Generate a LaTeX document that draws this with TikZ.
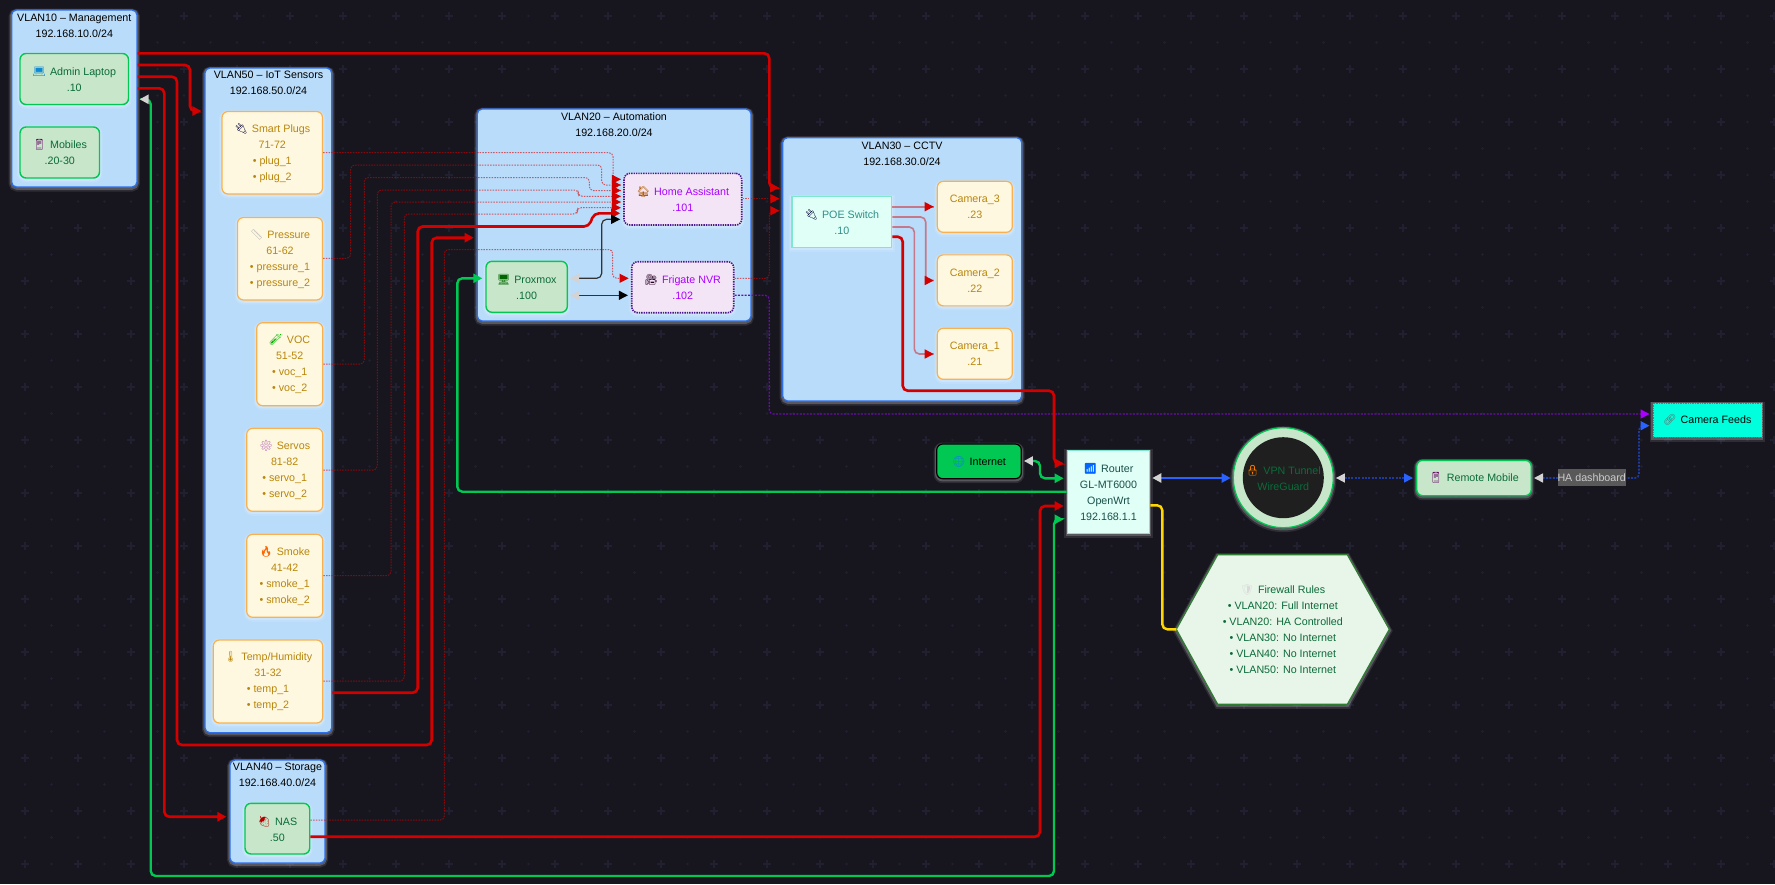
\documentclass[tikz,border=0pt]{standalone}
\usepackage{fontspec}
\setmainfont{Liberation Sans}
\newfontfamily\emojifont{Noto Emoji}
\usetikzlibrary{arrows.meta,decorations.markings}

\definecolor{pagedark}{HTML}{17161F}
\definecolor{gridmark}{HTML}{212030}
\definecolor{vlanfill}{HTML}{B9DCFA}
\definecolor{vlanline}{HTML}{2F6FE8}
\definecolor{greenfill}{HTML}{C8E6C9}
\definecolor{greenline}{HTML}{00C853}
\definecolor{greentext}{HTML}{0B6B3A}
\definecolor{sensorfill}{HTML}{FFF8E1}
\definecolor{sensorline}{HTML}{F8B050}
\definecolor{sensortext}{HTML}{B8860B}
\definecolor{autofill}{HTML}{F3E5F5}
\definecolor{autoline}{HTML}{4A1A8C}
\definecolor{autotext}{HTML}{AA00FF}
\definecolor{coolfill}{HTML}{E0FFF6}
\definecolor{coolline}{HTML}{7DE8CC}
\definecolor{cooltext}{HTML}{2F8F88}
\definecolor{feedfill}{HTML}{00FFDD}
\definecolor{hexafill}{HTML}{E8F5E9}
\definecolor{hexaline}{HTML}{2E7D32}
\definecolor{linkred}{HTML}{D40000}
\definecolor{linkblue}{HTML}{2962FF}
\definecolor{dotblue}{HTML}{1E3A9E}
\definecolor{dotpurple}{HTML}{6A0DAD}
\definecolor{tipgrey}{HTML}{D3D3D3}
\definecolor{linkyellow}{HTML}{FFD600}

\newcommand{\ico}[2]{{\emojifont\color{#1}#2}\hspace{4pt}}
\newcommand{\txtfont}{\fontsize{10.7}{16}\selectfont}

\tikzset{
  glow/.style={
    preaction={draw=white,draw opacity=.10,line width=6pt,solid,transform canvas={yshift=-1.5pt}},
    preaction={draw=white,draw opacity=.20,line width=3.5pt,solid,transform canvas={yshift=-1pt}}},
  plainbox/.style={rectangle,inner sep=0pt,align=center,font=\txtfont},
  vlanbox/.style={plainbox,glow,draw=vlanline,fill=vlanfill,rounded corners=5pt,line width=1.2pt},
  vlantitle/.style={plainbox,text=black},
  greenbox/.style={plainbox,glow,draw=greenline,fill=greenfill,text=greentext,rounded corners=6pt,line width=1.4pt},
  sensorbox/.style={plainbox,glow,draw=sensorline,fill=sensorfill,text=sensortext,rounded corners=6pt,line width=1.2pt},
  autobox/.style={plainbox,glow,draw=autoline,fill=autofill,text=autotext,rounded corners=6pt,line width=1.6pt,
    dash pattern=on 1.4pt off 1pt},
  coolbox/.style={plainbox,glow,draw=coolline,fill=coolfill,text=cooltext,line width=1.2pt},
  hexabox/.style={glow,draw=hexaline,fill=hexafill,line width=1.2pt},
  edgelabel/.style={plainbox,fill=black!65,text=black!20,minimum width=68pt,minimum height=16.4pt},
  % connectors
  greytail/.tip={Triangle[length=9pt,width=9pt,color=tipgrey]},
  redtip/.tip={Triangle[length=9pt,width=9pt,color=linkred]},
  bigred/.style={draw=linkred,line width=2.6pt,rounded corners=5pt,shorten >=3pt,-redtip},
  biggreen/.style={draw=greenline,line width=2.4pt,rounded corners=5pt,shorten >=3pt,
    -{Triangle[length=9pt,width=9pt,color=greenline]}},
  blackline/.style={draw=black!80,line width=1.2pt,rounded corners=5pt,shorten >=3pt,shorten <=2pt,
    greytail-{Triangle[length=9pt,width=9pt,color=black]}},
  softtip/.style={postaction={decorate,decoration={markings,mark=at position 1 with
    {\pgfsetstrokeopacity{1}\pgfsetfillopacity{1}\arrow{Triangle[length=9pt,width=9pt,color=linkred]}}}}},
  softred/.style={draw=linkred,draw opacity=.45,line width=1.6pt,rounded corners=5pt,softtip},
  dotred/.style={draw=linkred,draw opacity=.6,line width=1pt,rounded corners=4pt,
    dash pattern=on 1.5pt off 1.2pt,softtip},
  dotpath/.style={line width=1.6pt,rounded corners=4pt,dash pattern=on 2pt off 1.4pt,shorten >=3pt}
}

\begin{document}
\begin{tikzpicture}[x=1pt,y=-1pt]
  \useasboundingbox[fill=pagedark] (0,0) rectangle (1775,884);

  % page pattern
  \foreach \i in {0,...,33}
    \foreach \j in {0,...,16} {
      \pgfmathsetmacro{\px}{25+53*\i}
      \pgfmathsetmacro{\py}{16+53*\j}
      \draw[gridmark,line width=1.8pt] (\px-4,\py) -- (\px+4,\py) (\px,\py-4) -- (\px,\py+4);
      \fill[gridmark] (\px+26.5,\py) circle (1.4) (\px,\py+26.5) circle (1.4) (\px+26.5,\py+26.5) circle (1.4);
    }

  % vlan boxes
  \node[vlanbox,minimum width=125.3pt,minimum height=177pt] (vlan10) at (74.3,98.5) {};
  \node[vlanbox,minimum width=126.7pt,minimum height=664.7pt] (vlan50) at (268.35,400.35) {};
  \node[vlanbox,minimum width=95pt,minimum height=103pt] (vlan40) at (277.5,811.5) {};
  \node[vlanbox,minimum width=273.7pt,minimum height=212pt] (vlan20) at (614.15,215) {};
  \node[vlanbox,minimum width=239pt,minimum height=263.3pt] (vlan30) at (902.2,269.35) {};

  % vlan titles
  \node[vlantitle] (title10) at (74.3,25.5) {VLAN10 – Management\\192.168.10.0/24};
  \node[vlantitle] (title50) at (268.5,83) {VLAN50 – IoT Sensors\\192.168.50.0/24};
  \node[vlantitle] (title40) at (277.5,775) {VLAN40 – Storage\\192.168.40.0/24};
  \node[vlantitle] (title20) at (614,125) {VLAN20 – Automation\\192.168.20.0/24};
  \node[vlantitle] (title30) at (902,153.5) {VLAN30 – CCTV\\192.168.30.0/24};

  % management
  \node[greenbox,minimum width=108.5pt,minimum height=51pt] (admin) at (74.25,79)
    {\ico{cyan!70!blue}{💻}Admin Laptop\\.10};
  \node[greenbox,minimum width=79.5pt,minimum height=51pt] (mobiles) at (59.75,152.5)
    {\ico{violet!80!black}{📱}Mobiles\\.20-30};

  % sensors
  \node[sensorbox,minimum width=100.5pt,minimum height=82.5pt] (plugs) at (272.25,152.75)
    {\ico{black!80!blue}{🔌}Smart Plugs\\71-72\\• plug\_1\\• plug\_2};
  \node[sensorbox,minimum width=85pt,minimum height=82.5pt] (pressure) at (280,258.75)
    {\ico{black!30}{📏}Pressure\\61-62\\• pressure\_1\\• pressure\_2};
  \node[sensorbox,minimum width=66pt,minimum height=83pt] (voc) at (289.7,364.2)
    {\ico{green!70!black}{🧪}VOC\\51-52\\• voc\_1\\• voc\_2};
  \node[sensorbox,minimum width=76pt,minimum height=83pt] (servos) at (284.7,469.8)
    {\ico{violet!60!white}{⚙}Servos\\81-82\\• servo\_1\\• servo\_2};
  \node[sensorbox,minimum width=76pt,minimum height=83pt] (smoke) at (284.7,575.8)
    {\ico{orange!80!red}{🔥}Smoke\\41-42\\• smoke\_1\\• smoke\_2};
  \node[sensorbox,minimum width=109.4pt,minimum height=83pt] (temp) at (268,681.5)
    {\ico{sensortext}{🌡}Temp/Humidity\\31-32\\• temp\_1\\• temp\_2};

  % storage
  \node[greenbox,minimum width=64.7pt,minimum height=50.7pt] (nas) at (277.35,828.65)
    {\ico{red!70!black}{🍓}NAS\\.50};

  % automation
  \node[autobox,minimum width=117.7pt,minimum height=51.7pt] (ha) at (682.85,199.15)
    {\ico{orange!70!black}{🏠}Home Assistant\\.101};
  \node[autobox,minimum width=102pt,minimum height=51pt] (frigate) at (682.7,287.2)
    {\ico{black!70!violet}{🎥}Frigate NVR\\.102};
  \node[greenbox,minimum width=81.3pt,minimum height=51pt] (proxmox) at (526.65,286.8)
    {\ico{green!40!black}{🖥}Proxmox\\.100};

  % cctv
  \node[coolbox,minimum width=99.7pt,minimum height=50.6pt] (poe) at (841.85,222)
    {\ico{black!80!blue}{🔌}POE Switch\\.10};
  \node[sensorbox,minimum width=75pt,minimum height=51pt] (cam3) at (974.8,206.8) {Camera\_3\\.23};
  \node[sensorbox,minimum width=75pt,minimum height=51pt] (cam2) at (974.8,280.35) {Camera\_2\\.22};
  \node[sensorbox,minimum width=75pt,minimum height=51pt] (cam1) at (974.8,353.8) {Camera\_1\\.21};

  % core
  \node[plainbox,glow,draw=black,fill=greenline,text=black,rounded corners=6pt,line width=1.2pt,
    minimum width=84.6pt,minimum height=34.7pt] (internet) at (979,461.35) {\ico{cyan!70!blue}{🌐}Internet};
  \node[coolbox,text=black!45!cooltext,minimum width=82.4pt,minimum height=83pt] (router) at (1108.5,492.2)
    {\ico{blue!60!cyan}{📶}Router\\GL-MT6000\\OpenWrt\\192.168.1.1};
  \node[circle,glow,draw=greenline,fill=greenfill,line width=1.2pt,minimum size=100pt] (vpn) at (1283.3,477.7) {};
  \node[plainbox,circle,fill=black!88,text=greentext,minimum size=81pt] (vpninner) at (vpn)
    {\ico{orange}{🔒}VPN Tunnel\\WireGuard};
  \node[greenbox,minimum width=114.6pt,minimum height=35.4pt] (remote) at (1474,478)
    {\ico{violet!80!black}{📱}Remote Mobile};
  \node[plainbox,glow,draw=black!55,dash pattern=on 1.4pt off 1pt,fill=feedfill,text=black,
    minimum width=109pt,minimum height=34.3pt] (feeds) at (1707.2,420.15) {\ico{black!60}{🔗}Camera Feeds};

  % firewall
  \draw[hexabox] (1176.3,629.3) coordinate (fwleft) -- (1217.7,554.7) -- (1347.3,554.7)
    -- (1389.3,629.3) -- (1347.3,704.3) -- (1217.7,704.3) -- cycle;
  \node[plainbox,text=greentext] (firewall) at (1282.8,629.3)
    {\ico{black!15}{🛡}Firewall Rules\\• VLAN20: Full Internet\\• VLAN20: HA Controlled\\• VLAN30: No Internet\\• VLAN40: No Internet\\• VLAN50: No Internet};

  % management links
  \draw[bigred] (vlan10.east |- 0,53.3) -- (769.3,53.3) -- (769.3,187.7) -- (vlan30.west |- 0,187.7);
  \draw[bigred] (vlan10.east |- 0,65) -- (190,65) -- (190,111) -- (vlan50.west |- 0,111);
  \draw[bigred] (vlan10.east |- 0,76.7) -- (177,76.7) -- (177,745) -- (431.7,745) -- (431.7,237.7) -- (vlan20.west |- 0,237.7);
  \draw[bigred] (vlan10.east |- 0,88.3) -- (164.3,88.3) -- (164.3,816.7) -- (vlan40.west |- 0,816.7);
  \draw[biggreen,shorten <=2pt,greytail-{Triangle[length=9pt,width=9pt,color=greenline]}]
    (vlan10.east |- 0,99.3) -- (150.7,99.3) -- (150.7,876) -- (1054,876) -- (1054,519.3) -- (router.west |- 0,519.3);

  % sensors to home assistant
  \draw[dotred] (plugs.east |- 0,152.7) -- (613,152.7) -- (613,179.3) -- ([xshift=-2.3pt]ha.west |- 0,179.3);
  \draw[dotred] (pressure.east |- 0,258.3) -- (350.7,258.3) -- (350.7,165) -- (601.7,165) -- (601.7,185) -- ([xshift=-2.3pt]ha.west |- 0,185);
  \draw[dotred] (voc.east |- 0,364) -- (364.3,364) -- (364.3,177.5) -- (589.3,177.5) -- (589.3,190.5) -- ([xshift=-2.3pt]ha.west |- 0,190.5);
  \draw[dotred] (servos.east |- 0,470) -- (377.3,470) -- (377.3,190) -- (578.3,190) -- (578.3,196.3) -- ([xshift=-2.3pt]ha.west |- 0,196.3);
  \draw[dotred] (smoke.east |- 0,575.7) -- (391,575.7) -- (391,202) -- ([xshift=-2.3pt]ha.west |- 0,202);
  \draw[dotred] (temp.east |- 0,681) -- (404.3,681) -- (404.3,214) -- (577.3,214) -- (577.3,207.7) -- ([xshift=-2.3pt]ha.west |- 0,207.7);
  \draw[bigred] (vlan50.east |- 0,692.7) -- (417.7,692.7) -- (417.7,226.5) -- (589,226.5) -- (594,213.3) -- (ha.west |- 0,213.3);

  % nas links
  \draw[dotred] (nas.east |- 0,820) -- (444.3,820) -- (444.3,249.5) -- (612.7,249.5) -- (612.7,278.3) -- ([xshift=-2.3pt]frigate.west |- 0,278.3);
  \draw[bigred] (nas.east |- 0,836.7) -- (1040,836.7) -- (1040,506) -- (router.west |- 0,506);

  % proxmox links
  \draw[biggreen] (router.west |- 0,491.7) -- (457.3,491.7) -- (457.3,278.3) -- (proxmox.west |- 0,278.3);
  \draw[blackline] (proxmox.east |- 0,278.3) -- (601.7,278.3) -- (601.7,219.3) -- (ha.west |- 0,219.3);
  \draw[blackline] (proxmox.east |- 0,295.3) -- (frigate.west |- 0,295.3);

  % automation to cctv
  \draw[dotred] (ha.east |- 0,198.7) -- ([xshift=-2.7pt]vlan30.west |- 0,198.7);
  \draw[dotred] (frigate.east |- 0,278.3) -- (769.3,278.3) -- (769.3,210.7) -- ([xshift=-2.7pt]vlan30.west |- 0,210.7);
  \draw[dotpath,draw=dotpurple,line width=1.2pt,-{Triangle[length=9pt,width=9pt,color=autotext]}]
    (frigate.east |- 0,295.3) -- (769.3,295.3) -- (769.3,414) -- (feeds.west |- 0,414);

  % cameras
  \draw[softred] (poe.east |- 0,206.7) -- ([xshift=-3pt]cam3.west |- 0,206.7);
  \draw[softred] (poe.east |- 0,217) -- (925.7,217) -- (925.7,280.5) -- ([xshift=-3pt]cam2.west |- 0,280.5);
  \draw[softred] (poe.east |- 0,227) -- (914.3,227) -- (914.3,354) -- ([xshift=-3pt]cam1.west |- 0,354);
  \draw[bigred] (poe.east |- 0,236.7) -- (902.7,236.7) -- (902.7,390.7) -- (1054,390.7) -- (1054,463.3) -- (router.west |- 0,463.3);

  % router links
  \draw[biggreen,shorten <=2pt,greytail-{Triangle[length=9pt,width=9pt,color=greenline]}]
    (internet.east |- 0,461) -- (1040,461) -- (1040,478.3) -- (router.west |- 0,478.3);
  \draw[line width=2.6pt,draw=linkblue,shorten <=2pt,shorten >=2pt,greytail-{Triangle[length=9pt,width=9pt,color=linkblue]}]
    (router.east |- 0,478) -- (vpn.west |- 0,478);
  \draw[line width=2.4pt,draw=linkyellow,rounded corners=5pt] (router.east |- 0,505.3) -- (1162.3,505.3) -- (1162.3,629.3) -- (fwleft);
  \draw[dotpath,draw=dotblue,shorten <=2pt,greytail-{Triangle[length=9pt,width=9pt,color=linkblue]}]
    (vpn.east |- 0,478) -- (remote.west |- 0,478);
  \draw[dotpath,draw=dotblue,shorten <=2pt,greytail-{Triangle[length=9pt,width=9pt,color=linkblue]}]
    (remote.east |- 0,478) -- (1639,478) -- (1639,425.7) -- (feeds.west |- 0,425.7);
  \node[edgelabel] (dashlabel) at (1591.7,477.6) {HA dashboard};
\end{tikzpicture}
\end{document}
